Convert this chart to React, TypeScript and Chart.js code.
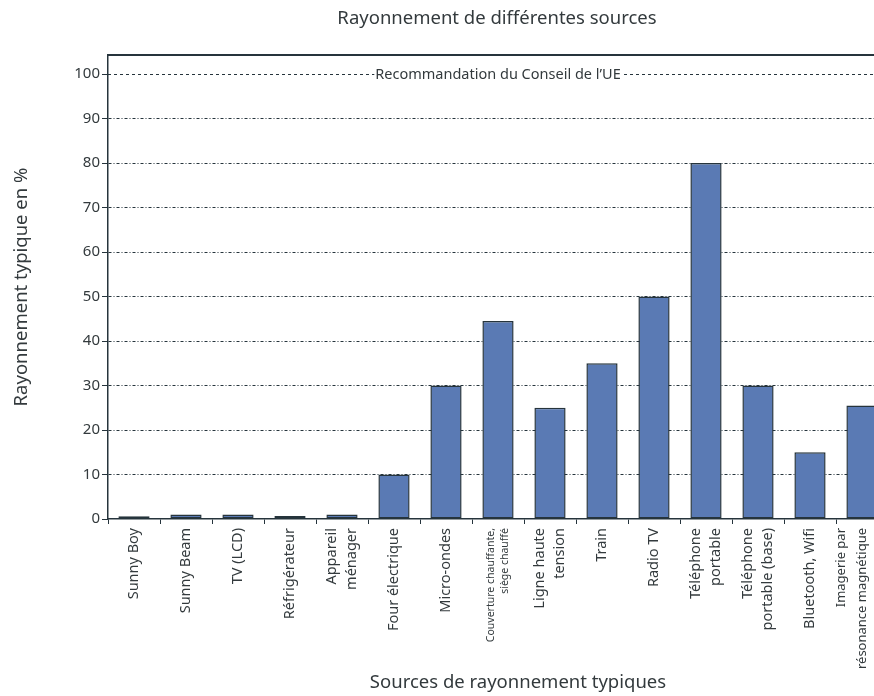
import React, { useEffect, useRef } from "react";
import { Chart, registerables } from "chart.js";

Chart.register(...registerables);

// ---- data ----
const categories: (string | string[])[] = [
  "Sunny Boy",
  "Sunny Beam",
  "TV (LCD)",
  "Réfrigérateur",
  ["Appareil", "ménager"],
  "Four électrique",
  "Micro-ondes",
  ["Couverture chauffante,", "siège chauffé"],
  ["Ligne haute", "tension"],
  "Train",
  "Radio TV",
  ["Téléphone", "portable"],
  ["Téléphone", "portable (base)"],
  "Bluetooth, Wifi",
  ["Imagerie par", "résonance magnétique", "nucléaire"],
];
const radiationValues = [0.6, 1, 1, 0.7, 1, 10, 30, 44.5, 25, 35, 50, 80, 30, 15, 25.5];
const yTickValues = [0, 10, 20, 30, 40, 50, 60, 70, 80, 90, 100];
const recommendationValue = 100;
const recommendationLabel = "Recommandation du Conseil de l’UE";
const chartTitle = "Rayonnement de différentes sources";
const xAxisTitle = "Sources de rayonnement typiques";
const yAxisTitle = "Rayonnement typique en %";

// ---- style ----
const FONT = "'Noto Sans', sans-serif";
const DARK = "#26343c";
const TEXT = "#333a3d";
const BAR = "#5a7ab4";

function labelFont(i: number) {
  if (i === 7) return { size: 10.5, lh: 14.5 };
  if (i === 14) return { size: 13, lh: 21 };
  return { size: 14.5, lh: 20 };
}

const decorPlugin = {
  id: "decor",
  beforeDatasetsDraw(chart: any) {
    const { ctx, chartArea } = chart;
    const y = Math.round(chart.scales.y.getPixelForValue(recommendationValue)) + 0.5;
    ctx.save();
    ctx.strokeStyle = DARK;
    ctx.lineWidth = 1;
    ctx.setLineDash([3, 3]);
    ctx.beginPath();
    ctx.moveTo(chartArea.left, y);
    ctx.lineTo(chartArea.right, y);
    ctx.stroke();
    ctx.setLineDash([]);
    ctx.font = `14.5px ${FONT}`;
    ctx.textAlign = "center";
    ctx.textBaseline = "middle";
    const cx = (chartArea.left + chartArea.right) / 2;
    const w = ctx.measureText(recommendationLabel).width;
    ctx.fillStyle = "#ffffff";
    ctx.fillRect(cx - w / 2 - 1, y - 9, w + 2, 18);
    ctx.fillStyle = TEXT;
    ctx.fillText(recommendationLabel, cx, y);
    ctx.restore();
  },
  afterDraw(chart: any) {
    const { ctx, chartArea } = chart;
    const xScale = chart.scales.x;
    ctx.save();
    // top frame line
    ctx.strokeStyle = DARK;
    ctx.lineWidth = 2;
    ctx.beginPath();
    ctx.moveTo(chartArea.left, chartArea.top);
    ctx.lineTo(chartArea.right, chartArea.top);
    ctx.stroke();

    // category labels, rotated, lines centred on each tick
    ctx.fillStyle = TEXT;
    ctx.textAlign = "right";
    ctx.textBaseline = "middle";
    const labels = chart.data.labels as (string | string[])[];
    labels.forEach((label, i) => {
      const lines = Array.isArray(label) ? label : [label];
      const { size, lh } = labelFont(i);
      ctx.font = `${size}px ${FONT}`;
      const px = xScale.getPixelForTick(i);
      lines.forEach((line, j) => {
        const cx = px + (j - (lines.length - 1) / 2) * lh;
        ctx.save();
        ctx.translate(cx, chartArea.bottom + 9);
        ctx.rotate(-Math.PI / 2);
        ctx.fillText(line, 0, 0);
        ctx.restore();
      });
    });

    // titles
    ctx.textAlign = "center";
    ctx.textBaseline = "middle";
    ctx.font = `18.5px ${FONT}`;
    ctx.fillText(chartTitle, 497, 19);
    ctx.fillText(xAxisTitle, 518, 683);
    ctx.restore();
  },
};

export default function App() {
  const canvasRef = useRef<HTMLCanvasElement | null>(null);

  useEffect(() => {
    const canvas = canvasRef.current;
    if (!canvas) return;
    const chart = new Chart(canvas, {
      type: "bar",
      data: {
        labels: categories,
        datasets: [
          {
            data: radiationValues,
            backgroundColor: BAR,
            borderColor: DARK,
            borderWidth: 1.5,
            borderSkipped: false,
            categoryPercentage: 1,
            barPercentage: 0.6,
          },
        ],
      },
      options: {
        responsive: false,
        maintainAspectRatio: false,
        animation: false,
        layout: { padding: { top: 55, right: 12, left: 0, bottom: 0 } },
        plugins: {
          legend: { display: false },
          tooltip: { enabled: false },
          title: { display: false },
        },
        scales: {
          x: {
            afterFit: (s: any) => {
              s.height = 177;
              s.paddingLeft = 0;
              s.paddingRight = 0;
            },
            grid: {
              offset: true,
              drawOnChartArea: false,
              drawTicks: true,
              tickLength: 5,
              tickColor: DARK,
              tickWidth: 1,
            },
            border: { display: true, color: DARK, width: 1.5 },
            ticks: {
              display: false,
              autoSkip: false,
            },
          },
          y: {
            min: 0,
            max: 104.3,
            afterFit: (s: any) => {
              s.width = 108;
            },
            afterBuildTicks: (s: any) => {
              s.ticks = yTickValues.map((v) => ({ value: v }));
            },
            grid: {
              color: (c: any) =>
                c.tick && (c.tick.value === 0 || c.tick.value === recommendationValue)
                  ? "rgba(0,0,0,0)"
                  : DARK,
              lineWidth: 1,
              drawTicks: true,
              tickLength: 6,
              tickColor: DARK,
              tickWidth: 1,
            },
            border: { display: true, color: DARK, width: 1.5, dash: [3, 2, 1, 2] },
            ticks: {
              padding: 2,
              color: TEXT,
              font: { family: FONT, size: 15 },
            },
            title: {
              display: true,
              text: yAxisTitle,
              color: TEXT,
              font: { family: FONT, size: 18.5 },
              padding: { top: 11, bottom: 0 },
            },
          },
        },
      },
      plugins: [decorPlugin],
    });
    return () => chart.destroy();
  }, []);

  return (
    <div
      style={{
        position: "fixed",
        left: 0,
        top: 0,
        width: 874,
        height: 696,
        overflow: "hidden",
        background: "#ffffff",
      }}
    >
      <canvas ref={canvasRef} width={900} height={696} style={{ display: "block" }} />
    </div>
  );
}
